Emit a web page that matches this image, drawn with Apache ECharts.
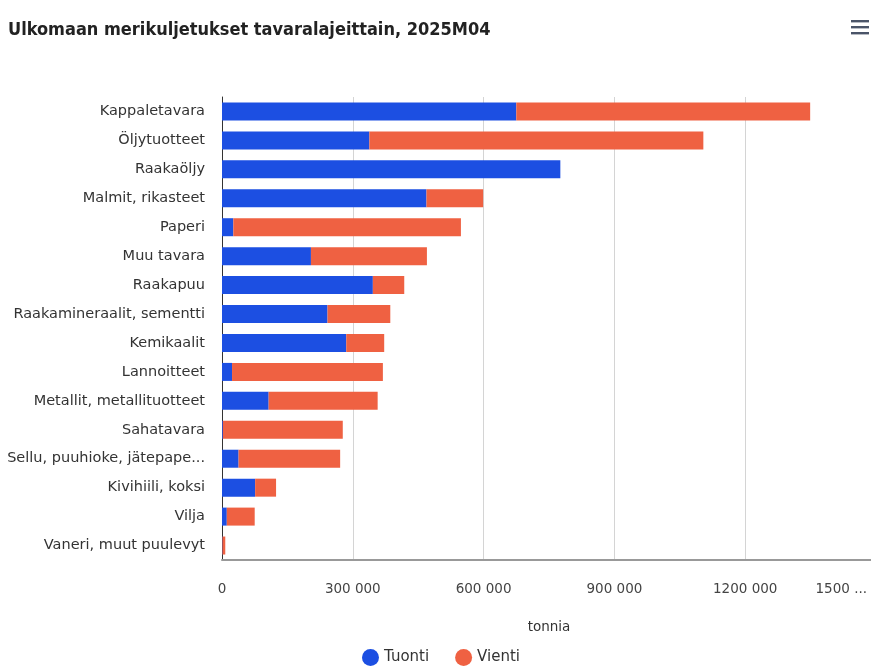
<!DOCTYPE html>
<html>
<head>
<meta charset="utf-8">
<script src="https://cdn.jsdelivr.net/npm/echarts@6/dist/echarts.min.js"></script>
<style>
  html, body { margin: 0; padding: 0; background: #fff; }
  #chart { width: 871px; height: 666px; }
</style>
</head>
<body>
<div id="chart"></div>
<script>
// Ulkomaan merikuljetukset tavaralajeittain, 2025M04 (tonnia)
const categories = [
  'Kappaletavara', 'Öljytuotteet', 'Raakaöljy', 'Malmit, rikasteet', 'Paperi',
  'Muu tavara', 'Raakapuu', 'Raakamineraalit, sementti', 'Kemikaalit', 'Lannoitteet',
  'Metallit, metallituotteet', 'Sahatavara', 'Sellu, puuhioke, jätepaperi',
  'Kivihiili, koksi', 'Vilja', 'Vaneri, muut puulevyt'
];
const tuonti = [675000, 338000, 776000, 469000, 26000, 204000, 346000, 242000,
  285000, 23000, 107000, 2000, 38000, 76000, 11000, 1000];
const vienti = [674000, 766000, 0, 130000, 522000, 266000, 72000, 144000,
  87000, 346000, 250000, 275000, 233000, 48000, 64000, 6500];
const xTicks = { min: 0, max: 1500000, interval: 300000 };
const seriesNames = ['Tuonti', 'Vienti'];
const colors = ['#1c4fe2', '#ef6142'];

// value axis labels with a space as thousands separator; the last one is cut short
function fmtValue(v) {
  if (v === xTicks.max) return '{m|1500 ...}';
  if (v === 0) return '0';
  return Math.round(v / 1000) + ' 000';
}
// long category names are shortened with an ellipsis
function fmtCategory(s) {
  return s.length > 26 ? s.slice(0, 25) + '...' : s;
}

const FONT = 'DejaVu Sans, sans-serif';
const chart = echarts.init(document.getElementById('chart'), null, { renderer: 'canvas' });
chart.setOption({
  animation: false,
  color: colors,
  title: {
    text: 'Ulkomaan merikuljetukset tavaralajeittain, 2025M04',
    left: 3, top: 16,
    textStyle: {
      fontFamily: 'DejaVu Sans Condensed, sans-serif',
      fontSize: 18, fontWeight: 'bold', color: '#222'
    }
  },
  graphic: [0, 1, 2].map(i => ({
    type: 'rect',
    shape: { x: 851, y: 20 + i * 6, width: 18, height: 2.4 },
    style: { fill: '#4a5468' }
  })),
  legend: {
    bottom: -5, left: 357,
    icon: 'circle', itemWidth: 17, itemHeight: 17, itemGap: 26, itemTextGap: 6,
    textStyle: { fontFamily: FONT, fontSize: 15, color: '#333' },
    data: seriesNames
  },
  grid: {
    left: 222, width: 654, top: 97, bottom: 106,
    containLabel: false, outerBoundsMode: 'none'
  },
  xAxis: {
    type: 'value',
    min: xTicks.min, max: xTicks.max, interval: xTicks.interval,
    name: 'tonnia', nameLocation: 'middle', nameGap: 60,
    nameTextStyle: { fontFamily: FONT, fontSize: 13.5, color: '#333' },
    axisLine: { show: true, lineStyle: { color: '#999', width: 2 } },
    axisTick: { show: false },
    axisLabel: {
      formatter: fmtValue, margin: 22, color: '#444',
      fontFamily: FONT, fontSize: 13.5,
      alignMaxLabel: 'right',
      rich: { m: { fontFamily: FONT, fontSize: 13.5, color: '#444', padding: [0, 9, 0, 0] } }
    },
    splitLine: { show: true, lineStyle: { color: '#d4d4d4', width: 1 } }
  },
  yAxis: {
    type: 'category', inverse: true, data: categories,
    axisLine: { show: true, lineStyle: { color: '#333', width: 1 } },
    axisTick: { show: false },
    axisLabel: {
      margin: 17, color: '#333',
      fontFamily: FONT, fontSize: 14.5,
      formatter: fmtCategory
    }
  },
  series: [
    { name: seriesNames[0], type: 'bar', stack: 'total', data: tuonti, barWidth: 18 },
    { name: seriesNames[1], type: 'bar', stack: 'total', data: vienti, barWidth: 18 }
  ]
});
</script>
</body>
</html>
